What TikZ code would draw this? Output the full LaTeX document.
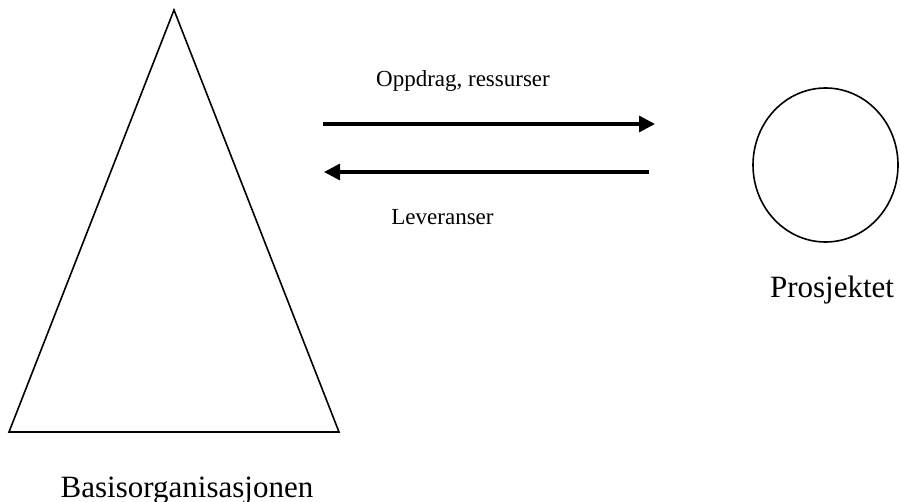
\documentclass[tikz,border=0pt]{standalone}
\usepackage{fontspec}
\setmainfont{Liberation Serif}
\usepackage{tikz}
\usetikzlibrary{arrows.meta,positioning,shapes.geometric}

\begin{document}
\begin{tikzpicture}[
  x=1pt, y=-1pt,
  shape line/.style={draw=black, line width=1.6pt, line join=miter},
  arr/.style={-{Triangle[length=16pt, width=16pt]}, draw=black, line width=3.2pt},
  biglabel/.style={font=\fontsize{31}{36}\selectfont, anchor=base, inner sep=0pt},
  smalllabel/.style={font=\fontsize{23}{27}\selectfont, anchor=base, inner sep=0pt}
]
\useasboundingbox (0,0) rectangle (901,502);

% base organisation (triangle)
\coordinate (apex) at (174,10);
\coordinate (baseL) at (9,432);
\coordinate (baseR) at (339,432);
\draw[shape line] (apex) -- (baseL) -- (baseR) -- cycle;
\node[biglabel] (basis) at (187,497) {Basisorganisasjonen};

% project (ellipse)
\node[ellipse, shape line, minimum width=145pt, minimum height=154pt, inner sep=0pt]
  (proj) at (825.5,165) {};
\node[biglabel] (projlabel) at (832,298) {Prosjektet};

% flows
\coordinate (outL) at (323,124);
\coordinate (outR) at (655,124);
\coordinate (inR) at (649,172);
\coordinate (inL) at (324,172);
\draw[arr] (outL) -- (outR);
\draw[arr] (inR) -- (inL);

\node[smalllabel] (oppdrag) at (463,87) {Oppdrag, ressurser};
\node[smalllabel] (lev) at (442.5,225) {Leveranser};
\end{tikzpicture}
\end{document}
